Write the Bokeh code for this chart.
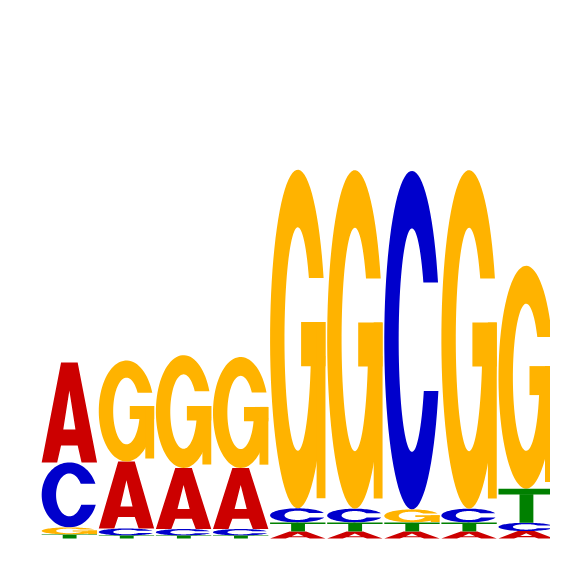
import numpy as np
from bokeh.plotting import figure
from bokeh.models import Range1d
from bokeh.embed import file_html
from bokeh.resources import INLINE

# sequence logo, heights in bits per position
positions = [1, 2, 3, 4, 5, 6, 7, 8, 9]
bases = ["A", "C", "G", "T"]
A_bits = [0.540, 0.362, 0.330, 0.330, 0.038, 0.038, 0.038, 0.038, 0.040]
C_bits = [0.351, 0.038, 0.035, 0.035, 0.076, 0.074, 1.830, 0.074, 0.045]
G_bits = [0.038, 0.546, 0.610, 0.600, 1.830, 1.830, 0.070, 1.830, 1.205]
T_bits = [0.022, 0.016, 0.016, 0.016, 0.049, 0.049, 0.049, 0.049, 0.184]
colors = {"A": "#CC0000", "C": "#0000CC", "G": "#FFB300", "T": "#008000"}

RX_IN, RY_IN = 0.24, 0.33


def arc_ring(top_cut, bot_cut, n=80):
    ao0 = np.arcsin((top_cut - 0.5) / 0.5)
    ai0 = np.arcsin((top_cut - 0.5) / RY_IN)
    ao1 = 2 * np.pi + np.arcsin((bot_cut - 0.5) / 0.5)
    ai1 = 2 * np.pi + np.arcsin((bot_cut - 0.5) / RY_IN)
    to = np.linspace(ao0, ao1, n)
    ti = np.linspace(ai1, ai0, n)
    pts = list(zip(0.5 + 0.5 * np.cos(to), 0.5 + 0.5 * np.sin(to)))
    pts += list(zip(0.5 + RX_IN * np.cos(ti), 0.5 + RY_IN * np.sin(ti)))
    return pts


def rect(x0, x1, y0, y1):
    return [(x0, y0), (x1, y0), (x1, y1), (x0, y1)]


# letter outlines in a unit box; each piece is drawn as its own glyph
# (exterior ring, then holes) so overlapping pieces don't cancel out
shapes = {
    "A": [[[(0, 0), (0.35, 1), (0.65, 1), (1, 0), (0.72, 0), (0.65, 0.17),
            (0.35, 0.17), (0.28, 0)],
           [(0.39, 0.33), (0.61, 0.33), (0.5, 0.72)]]],
    "C": [[arc_ring(0.67, 0.35)]],
    "G": [[arc_ring(0.68, 0.45)],
          [rect(0.56, 1.0, 0.42, 0.55)],
          [rect(0.84, 1.0, 0.03, 0.55)]],
    "T": [[rect(0.0, 1.0, 0.83, 1.0)], [rect(0.38, 0.63, 0.0, 0.84)]],
}

bits = {"A": A_bits, "C": C_bits, "G": G_bits, "T": T_bits}
lw = 0.97

glyphs = {b: {"xs": [], "ys": []} for b in bases}
for i, pos in enumerate(positions):
    order = sorted(bases, key=lambda b: bits[b][i])
    bottom = 0.0
    for b in order:
        h = bits[b][i]
        x0 = pos - lw / 2
        for poly in shapes[b]:
            px, py = [], []
            for ring in poly:
                px.append([x0 + u * lw for u, v in ring])
                py.append([bottom + v * h for u, v in ring])
            glyphs[b]["xs"].append([px])
            glyphs[b]["ys"].append([py])
        bottom += h

p = figure(width=550, height=550, output_backend="svg", toolbar_location=None,
           x_range=Range1d(-0.206, 9.426), y_range=Range1d(-0.065, 2.908),
           min_border=0)
p.axis.visible = False
p.grid.visible = False
p.outline_line_color = None

for b in bases:
    p.multi_polygons(xs=glyphs[b]["xs"], ys=glyphs[b]["ys"],
                     fill_color=colors[b], line_color=None)

open("out.html", "w").write(file_html(p, INLINE))
